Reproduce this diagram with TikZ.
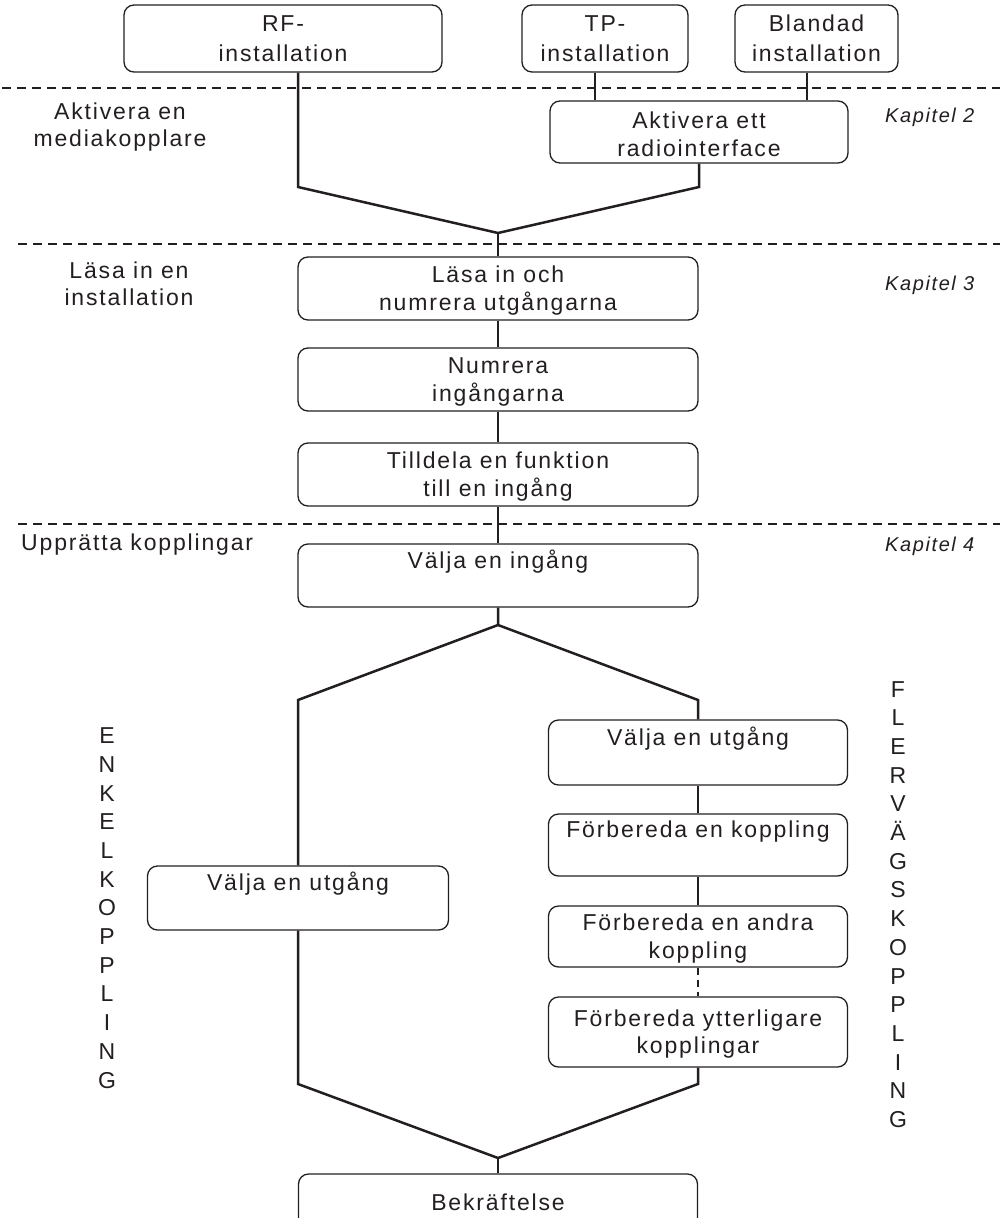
\documentclass[tikz,border=0pt]{standalone}
\usepackage{fontspec}
\setmainfont{Liberation Sans}[LetterSpace=8]
\definecolor{ink}{RGB}{35,31,32}
\newcommand{\boxfont}{\fontsize{23}{27.5}\selectfont}
\newcommand{\topfont}{\fontsize{23}{30}\selectfont}
\newcommand{\kapfont}{\fontsize{20}{24}\selectfont\itshape}
\newcommand{\vertfont}{\fontsize{23}{28.7}\selectfont}
\newcommand{\hstrut}{\rule{0pt}{21pt}}
\begin{document}
\begin{tikzpicture}[x=1pt,y=-1pt,
  fbox/.style={draw=ink, line width=1.3pt, rounded corners=10pt, minimum height=63pt,
    align=center, inner sep=0pt, font=\boxfont, text=ink},
  conn/.style={draw=ink, line width=2.5pt},
  sep/.style={draw=ink, line width=2.5pt, dash pattern=on 9pt off 6pt},
  lbl/.style={align=center, inner sep=0pt, font=\boxfont, text=ink},
  kap/.style={anchor=west, inner sep=0pt, font=\kapfont, text=ink},
  vert/.style={align=center, inner sep=0pt, font=\vertfont, text=ink}]
\useasboundingbox (0,0) rectangle (1000,1218);
\fill[white] (0,0) rectangle (1000,1218);

% separators
\draw[sep] (2,88) -- (1000,88);
\draw[sep] (18,244) -- (1000,244);
\draw[sep] (18,524) -- (1000,524);

% top boxes
\node[fbox, font=\topfont, minimum width=318pt, minimum height=67pt] (rf) at (283,38.5) {RF-\\installation};
\node[fbox, font=\topfont, minimum width=166pt, minimum height=67pt] (tp) at (605,38.5) {TP-\\installation};
\node[fbox, font=\topfont, minimum width=163pt, minimum height=67pt] (bl) at (816.5,38.5) {Blandad\\installation};
\node[fbox, minimum width=298pt, minimum height=62pt] (akt) at (699,132) {\hstrut Aktivera ett\\radiointerface};

% main column
\node[fbox, minimum width=400pt] (lasa) at (498,288.5) {\hstrut Läsa in och\\numrera utgångarna};
\node[fbox, minimum width=400pt] (numr) at (498,379.5) {\hstrut Numrera\\ingångarna};
\node[fbox, minimum width=400pt] (till) at (498,474.5) {\hstrut Tilldela en funktion\\till en ingång};
\node[fbox, minimum width=400pt] (vin) at (498,575.5) {\hstrut Välja en ingång\\\strut};

% branches
\node[fbox, minimum width=301pt, minimum height=64pt] (vutl) at (298,898) {\hstrut Välja en utgång\\\strut};
\node[fbox, minimum width=299pt, minimum height=65pt] (vutr) at (698,752.5) {\hstrut Välja en utgång\\\strut};
\node[fbox, minimum width=299pt, minimum height=62pt] (fb1) at (698,845) {\hstrut Förbereda en koppling\\\strut};
\node[fbox, minimum width=299pt, minimum height=61pt] (fb2) at (698,936.5) {\hstrut Förbereda en andra\\koppling};
\node[fbox, minimum width=299pt, minimum height=70pt] (fb3) at (698,1032) {\hstrut Förbereda ytterligare\\kopplingar};
\node[fbox, minimum width=399pt, minimum height=56pt] (bek) at (498,1202) {Bekräftelse};

% side labels
\node[lbl] (l1) at (120,127) {Aktivera en\\mediakopplare};
\node[lbl] (l2) at (129,284) {Läsa in en\\installation};
\node[lbl, anchor=west] (l3) at (21,545) {Upprätta kopplingar};
\node[kap] (k2) at (885,117) {Kapitel 2};
\node[kap] (k3) at (885,285) {Kapitel 3};
\node[kap] (k4) at (885,546) {Kapitel 4};
\node[vert] (enkel) at (107,908) {E\\N\\K\\E\\L\\K\\O\\P\\P\\L\\I\\N\\G};
\node[vert] (flerv) at (898,904.5) {F\\L\\E\\R\\V\\Ä\\G\\S\\K\\O\\P\\P\\L\\I\\N\\G};

% coordinates
\coordinate (rfx) at (298,0);
\coordinate (tpx) at (595,0);
\coordinate (blx) at (807,0);
\coordinate (c1) at (298,187);
\coordinate (j1) at (498,233);
\coordinate (s1) at (498,625);
\coordinate (c3) at (298,700);
\coordinate (c4) at (698,700);
\coordinate (c5) at (298,1084);
\coordinate (c6) at (698,1084);
\coordinate (j2) at (498,1158);

% connectors
\draw[conn] (rf.south -| rfx) -- (c1) -- (j1) -- (akt.south |- c1) -- (akt.south);
\draw[conn] (tp.south -| tpx) -- (akt.north -| tpx);
\draw[conn] (bl.south -| blx) -- (akt.north -| blx);
\draw[conn] (j1) -- (lasa.north);
\draw[conn] (lasa.south) -- (numr.north);
\draw[conn] (numr.south) -- (till.north);
\draw[conn] (till.south) -- (vin.north);
\draw[conn] (vin.south) -- (s1) -- (c3) -- (vutl.north);
\draw[conn] (s1) -- (c4) -- (vutr.north);
\draw[conn] (vutr.south) -- (fb1.north);
\draw[conn] (fb1.south) -- (fb2.north);
\draw[conn, dash pattern=on 7pt off 5pt] (fb2.south) -- (fb3.north);
\draw[conn] (vutl.south) -- (c5) -- (j2) -- (c6) -- (fb3.south);
\draw[conn] (j2) -- (bek.north);
\end{tikzpicture}
\end{document}
